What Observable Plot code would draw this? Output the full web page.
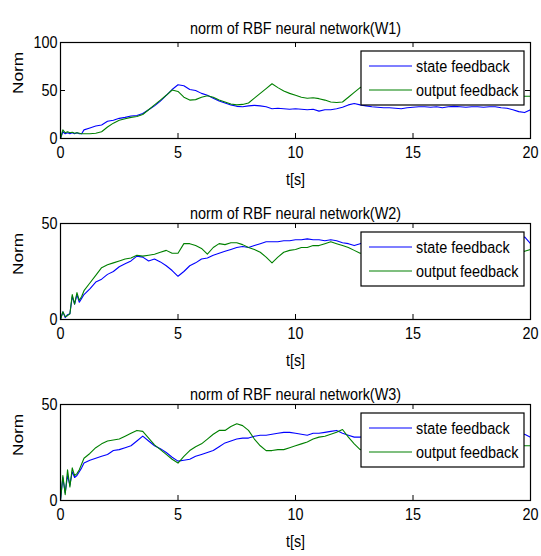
<!DOCTYPE html>
<html><head><meta charset="utf-8">
<script src="https://cdn.jsdelivr.net/npm/d3@7"></script>
<script src="https://cdn.jsdelivr.net/npm/@observablehq/plot@0.6"></script>
<style>
body{margin:0;background:#fff;}
#fig{position:relative;width:541px;height:556px;overflow:hidden;background:#fff;}
#fig svg{position:absolute;left:0;overflow:visible;background:transparent;}
</style></head><body><div id="fig"></div>
<script>
// ---------------- data ----------------
const titles = ["norm of RBF neural network(W1)", "norm of RBF neural network(W2)", "norm of RBF neural network(W3)"];
const seriesNames = ["state feedback", "output feedback"];
const seriesColors = ["#0000ff", "#008000"];
const xLabel = "t[s]";
const yLabel = "Norm";
const xTicks = [0, 5, 10, 15, 20];
const yTicksW1 = [0, 50, 100];
const yTicksW23 = [0, 50];

const time = [0,0.1,0.2,0.3,0.4,0.5,0.6,0.7,0.8,0.9,1,
 1.25,1.5,1.75,2, 2.25,2.5,2.75,3, 3.25,3.5,3.75,4, 4.25,4.5,4.75,5,
 5.25,5.5,5.75,6, 6.25,6.5,6.75,7, 7.25,7.5,7.75,8, 8.25,8.5,8.75,9,
 9.25,9.5,9.75,10, 10.25,10.5,10.75,11, 11.25,11.5,11.75,12, 12.25,12.5,12.75,13,
 13.25,13.5,13.75,14, 14.25,14.5,14.75,15, 15.25,15.5,15.75,16, 16.25,16.5,16.75,17,
 17.25,17.5,17.75,18, 18.25,18.5,18.75,19, 19.25,19.5,19.75,20];

const stateW1 = [0,7,5,6,5,6,5,6,5,5,9,
 11,13,14,18, 19,21,22,23.5, 24,26,30,34, 39,45,51,56,
 55,51,50,47, 45,42,39,37, 35,33.5,33,34, 34.5,34,33,31,
 31.5,31,30.5,31, 30.5,30,30.5,28.5, 30,30,31,32.5, 35,36.5,35,34,
 33,32.5,32,32, 31.5,31,32,32.5, 33,33,32.5,33, 32,33,33.5,33,
 32.5,33,33,32.5, 33,33,32,31.5, 30,28,27,30];
const outputW1 = [0,9,6,7,6,6.5,5.5,6,5.5,5,5,
 5,5.5,7,12, 16,19,20.5,22, 23,25,30,35, 40,45,50.5,49,
 43,40,40.5,43, 44.5,43,40,38, 36,35,35.5,37, 42,47,52,57,
 53,49.5,47,45, 43,42,42.5,41.5, 40,38,37.5,38, 43,48,53,55,
 54,52,50,49, 50,52,54,55, 53,51,50,48, 47,48,50,52,
 53,51,50,49, 48,47,46,45, 44.5,44,44,44];

const stateW2 = [0,4,1,2.5,3,12,8,13,9,11,13,
 16,19.5,21,23.5, 25,27.5,29,30.5, 33,32.5,30.5,31.5, 30,28,25.5,22.5,
 25,28,29.5,31.5, 32,33.5,34.5,35.5, 36.5,37.5,38,37.5, 38.5,39.5,40.5,40.5,
 40.5,41,41,41.5, 41.5,42,41.5,41.5, 41,41.5,41,40, 39.5,38.5,39.5,40,
 40.5,40,41,41.5, 41,40.5,41,42, 41.5,41,41.5,42, 42,41.5,42,42.5,
 42,41.5,42,42.5, 42,42.5,43,42.5, 42,41.5,43,39.5];
const outputW2 = [0,4,1.5,2,3,13,8,14,10,12,15,
 19,23,27,28.5, 29.5,30.5,31.5,32, 33.5,33,33.5,34, 35,36,34.5,34.5,
 39.5,39.5,38.5,37, 34,37.5,39.5,39, 40,40,39,37.5, 36.5,35,32.5,29.5,
 32.5,35,36,36.5, 37.5,37.5,38.5,38.5, 39.5,40.5,39.5,38.5, 37.5,36,34.5,35,
 36,37,36.5,37.5, 38,37,36.5,37, 38,38.5,37.5,37, 36.5,37.5,38,37,
 36,37,37.5,38, 37.5,37,36.5,36, 36.5,36,35.5,36.5];

const stateW3 = [0,12,4,13,8,15,12,13,15,17,19.5,
 21,22,23,24, 26,26.5,27.5,28.5, 31,33.5,31,28.5, 27,25,22.5,20.5,
 21,21.5,23,24, 25,26,28,30, 31,32,32.5,32.5, 33.5,34,34,34.5,
 35,35.5,35.5,35, 34.5,34,35,35, 35.5,36,36.5,35, 34,33,33,33.5,
 34,33.5,34,34.5, 34,33.5,34,34.5, 35,34.5,34,34.5, 35,34.5,34,34.5,
 35,35.5,35,34.5, 34,34.5,35,34.5, 34,34,34.5,33];
const outputW3 = [0,13,3,16,7,17,13,14,16,19,22,
 24.5,27.5,29.5,31, 31.5,32,33.5,35, 36.5,36,32.5,29, 26.5,24,21.5,19.5,
 23,26,28,29.5, 32,34.5,36.5,36.5, 38.5,40,39,36.5, 32,28.5,26,26,
 26.5,26.5,27.5,28.5, 29.5,30.5,32,33, 33.5,34.5,35.5,37, 33,29.5,26.5,27,
 28,29,30,31, 31.5,32,31,30.5, 31,32,31.5,31, 30.5,31,32,31.5,
 31,30.5,30,30.5, 30,29.5,29.5,29, 29,29,28.5,28.5];

// ---------------- layout ----------------
const FONT = "'Liberation Sans', Arial, Helvetica, sans-serif";
const FS = 14.4;          // font size (px)
const STRETCH = 1.2;      // vertical stretch of glyphs seen in the reference
const W = 541, H = 181, MT = 42, MB = 43, ML = 60, MR = 11;
const innerW = W - ML - MR, innerH = H - MT - MB;
const TICK = 5;

const panels = [
  {title: titles[0], s: stateW1, o: outputW1, yDomain: [0, 100], yTicks: yTicksW1, titleDy: -19.5},
  {title: titles[1], s: stateW2, o: outputW2, yDomain: [0, 50], yTicks: yTicksW23, titleDy: -16},
  {title: titles[2], s: stateW3, o: outputW3, yDomain: [0, 50], yTicks: yTicksW23, titleDy: -16}
];

const fig = document.getElementById("fig");
const SVGNS = "http://www.w3.org/2000/svg";

function el(name, attrs) {
  const e = document.createElementNS(SVGNS, name);
  for (const k in attrs) e.setAttribute(k, attrs[k]);
  return e;
}

panels.forEach((p, pi) => {
  const rows = [];
  time.forEach((tt, i) => {
    rows.push({t: tt, v: p.s[i], series: seriesNames[0]});
  });
  time.forEach((tt, i) => {
    rows.push({t: tt, v: p.o[i], series: seriesNames[1]});
  });
  const svg = Plot.plot({
    width: W, height: H,
    marginTop: MT, marginBottom: MB, marginLeft: ML, marginRight: MR,
    x: {domain: [0, 20], axis: null},
    y: {domain: p.yDomain, axis: null},
    color: {domain: seriesNames, range: seriesColors},
    style: {fontFamily: FONT, fontSize: FS + "px", background: "transparent", overflow: "visible"},
    marks: [
      Plot.line(rows, {x: "t", y: "v", z: "series", stroke: "series", strokeWidth: 1.1}),
      Plot.frame({stroke: "black", strokeWidth: 1.2}),
      Plot.tickX(xTicks, {x: d => d, insetTop: innerH - TICK, stroke: "black"}),
      Plot.tickX(xTicks, {x: d => d, insetBottom: innerH - TICK, stroke: "black"}),
      Plot.tickY(p.yTicks, {y: d => d, insetRight: innerW - TICK, stroke: "black"}),
      Plot.tickY(p.yTicks, {y: d => d, insetLeft: innerW - TICK, stroke: "black"}),
      Plot.text(xTicks, {x: d => d, text: d => String(d), frameAnchor: "bottom", dy: 18}),
      Plot.text(p.yTicks, {y: d => d, text: d => String(d), frameAnchor: "left", dx: -3, textAnchor: "end"}),
      Plot.text([xLabel], {text: d => d, frameAnchor: "bottom", dy: 45}),
      Plot.text([yLabel], {text: d => d, frameAnchor: "left", dx: -42, rotate: -90}),
      Plot.text([p.title], {text: d => d, frameAnchor: "top", dy: p.titleDy})
    ]
  });
  svg.style.top = (pi * H) + "px";

  // legend box (top-right, inside the axes)
  const lg = el("g", {"font-family": FONT, "font-size": FS, "text-anchor": "start"});
  const bx = 361, by = MT + 9, bw = 163, bh = 54;
  lg.appendChild(el("rect", {x: bx, y: by, width: bw, height: bh, fill: "white", stroke: "black", "stroke-width": 1.2}));
  seriesNames.forEach((name, i) => {
    const yy = by + 15 + i * 24;
    lg.appendChild(el("line", {x1: bx + 8, x2: bx + 51, y1: yy, y2: yy, stroke: seriesColors[i], "stroke-width": 1.1}));
    const tx = el("text", {x: bx + 55, y: yy, dy: "0.32em", fill: "black", "text-anchor": "start"});
    tx.textContent = name;
    lg.appendChild(tx);
  });
  svg.appendChild(lg);
  fig.appendChild(svg);
});

// stretch glyphs vertically around their own centre (reference is vertically stretched)
fig.querySelectorAll("svg").forEach(svg => {
  const sr = svg.getBoundingClientRect();
  svg.querySelectorAll("text").forEach(tx => {
    const r = tx.getBoundingClientRect();
    const cy = r.top + r.height / 2 - sr.top;
    const parent = tx.parentNode;
    const pm = parent.getCTM ? parent.getCTM() : null;
    const cyP = cy - (pm ? pm.f : 0);
    const g = el("g", {transform: `translate(0,${cyP}) scale(1,${STRETCH}) translate(0,${-cyP})`});
    parent.insertBefore(g, tx);
    g.appendChild(tx);
  });
});
</script>
</body></html>
